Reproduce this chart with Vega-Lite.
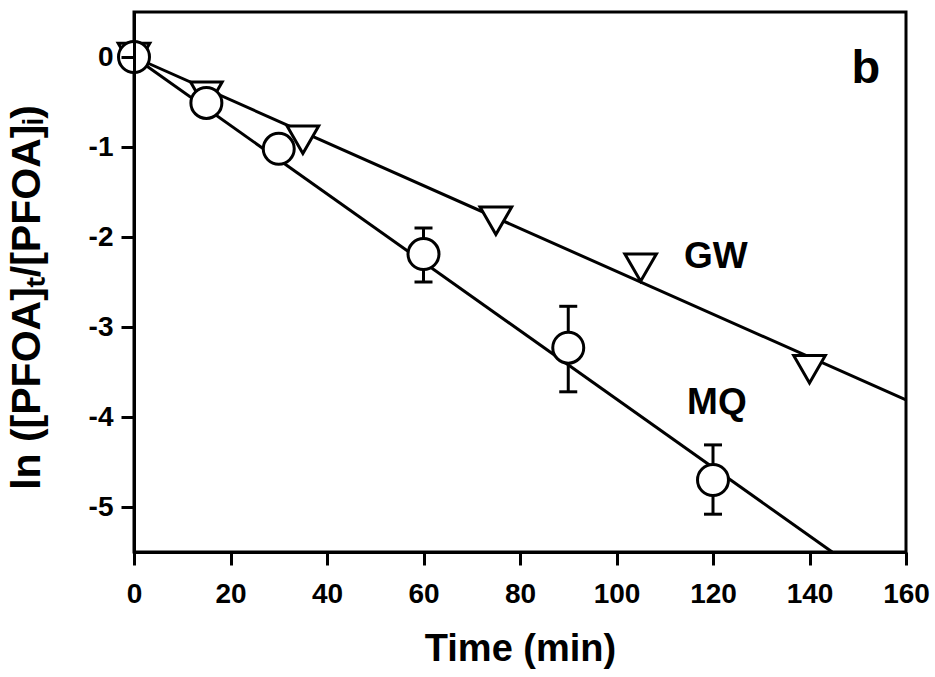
{
  "$schema": "https://vega.github.io/schema/vega-lite/v6.json",
  "width": 772,
  "height": 540,
  "autosize": {"type": "none"},
  "padding": {"left": 134, "top": 12, "right": 29, "bottom": 125},
  "background": "white",
  "config": {
    "view": {"stroke": "black", "strokeWidth": 3},
    "font": "Liberation Sans",
    "axis": {"tickSize": 13, "tickWidth": 3, "tickColor": "black", "domainWidth": 3, "domainColor": "black"}
  },
  "datasets": {
    "fits": [
      {"series": "GW", "time": 0, "value": 0},
      {"series": "GW", "time": 160, "value": -3.81},
      {"series": "MQ", "time": 0, "value": 0},
      {"series": "MQ", "time": 144.7, "value": -5.5}
    ],
    "points": [
      {"series": "GW", "time": 0, "value": 0},
      {"series": "GW", "time": 15, "value": -0.43},
      {"series": "GW", "time": 35, "value": -0.92},
      {"series": "GW", "time": 75, "value": -1.82},
      {"series": "GW", "time": 105, "value": -2.34},
      {"series": "GW", "time": 140, "value": -3.47},
      {"series": "MQ", "time": 0, "value": 0},
      {"series": "MQ", "time": 15, "value": -0.51},
      {"series": "MQ", "time": 30, "value": -1.02},
      {"series": "MQ", "time": 60, "value": -2.19},
      {"series": "MQ", "time": 90, "value": -3.23},
      {"series": "MQ", "time": 120, "value": -4.7}
    ],
    "errors": [
      {"time": 60, "lo": -2.5, "hi": -1.9},
      {"time": 90, "lo": -3.72, "hi": -2.77},
      {"time": 120, "lo": -5.08, "hi": -4.31}
    ],
    "labels": [
      {"time": 120.6, "value": -2.34, "text": "GW", "size": 37},
      {"time": 120.8, "value": -3.97, "text": "MQ", "size": 37},
      {"time": 151.7, "value": -0.29, "text": "b", "size": 47}
    ]
  },
  "encoding": {
    "x": {
      "field": "time",
      "type": "quantitative",
      "scale": {"domain": [0, 160], "nice": false, "zero": false},
      "axis": {
        "values": [0, 20, 40, 60, 80, 100, 120, 140, 160],
        "title": "Time (min)",
        "grid": true,
        "gridOpacity": 0,
        "ticks": true,
        "tickSize": 13,
        "tickWidth": 3,
        "tickColor": "black",
        "tickOpacity": 1,
        "zindex": 1,
        "domainColor": "black",
        "domainWidth": 3,
        "labelFlush": false,
        "labelFont": "Liberation Sans",
        "labelFontWeight": "bold",
        "labelFontSize": 28,
        "labelColor": "black",
        "labelPadding": 15,
        "titleFont": "Liberation Sans",
        "titleFontWeight": "bold",
        "titleFontSize": 38,
        "titleColor": "black",
        "titlePadding": 22
      }
    },
    "y": {
      "field": "value",
      "type": "quantitative",
      "scale": {"domain": [-5.5, 0.5], "nice": false, "zero": false},
      "axis": {
        "values": [-5, -4, -3, -2, -1, 0],
        "labelExpr": "'' + datum.value",
        "title": "ln ([PFOA]ₜ/[PFOA]ᵢ)",
        "grid": true,
        "gridOpacity": 0,
        "ticks": true,
        "tickSize": 13,
        "tickWidth": 3,
        "tickColor": "black",
        "tickOpacity": 1,
        "zindex": 1,
        "domainColor": "black",
        "domainWidth": 3,
        "labelFlush": false,
        "labelFont": "Liberation Sans",
        "labelFontWeight": "bold",
        "labelFontSize": 28,
        "labelColor": "black",
        "labelPadding": 8,
        "titleFont": "Liberation Sans",
        "titleFontWeight": "bold",
        "titleFontSize": 41,
        "titleColor": "black",
        "titlePadding": 40,
        "titleY": 285
      }
    }
  },
  "layer": [
    {
      "data": {"name": "fits"},
      "mark": {"type": "line", "color": "black", "strokeWidth": 3},
      "encoding": {"detail": {"field": "series"}}
    },
    {
      "data": {"name": "errors"},
      "mark": {"type": "rule", "color": "black", "strokeWidth": 3, "opacity": 1},
      "encoding": {
        "y": {"field": "lo", "type": "quantitative"},
        "y2": {"field": "hi"}
      }
    },
    {
      "data": {"name": "errors"},
      "mark": {"type": "point", "shape": "stroke", "size": 324, "stroke": "black", "strokeWidth": 3, "opacity": 1, "filled": false},
      "encoding": {"y": {"field": "lo", "type": "quantitative"}}
    },
    {
      "data": {"name": "errors"},
      "mark": {"type": "point", "shape": "stroke", "size": 324, "stroke": "black", "strokeWidth": 3, "opacity": 1, "filled": false},
      "encoding": {"y": {"field": "hi", "type": "quantitative"}}
    },
    {
      "data": {"name": "points"},
      "mark": {"type": "point", "filled": false, "fill": "white", "fillOpacity": 1, "stroke": "black", "strokeWidth": 3, "opacity": 1},
      "encoding": {
        "shape": {
          "field": "series",
          "type": "nominal",
          "scale": {"domain": ["GW", "MQ"], "range": ["triangle-down", "circle"]},
          "legend": null
        },
        "size": {
          "field": "series",
          "type": "nominal",
          "scale": {"domain": ["GW", "MQ"], "range": [1000, 960]},
          "legend": null
        }
      }
    },
    {
      "data": {"name": "labels"},
      "mark": {"type": "text", "font": "Liberation Sans", "fontWeight": "bold", "color": "black", "align": "center", "baseline": "alphabetic"},
      "encoding": {
        "text": {"field": "text"},
        "size": {"field": "size", "type": "quantitative", "scale": null}
      }
    }
  ]
}
